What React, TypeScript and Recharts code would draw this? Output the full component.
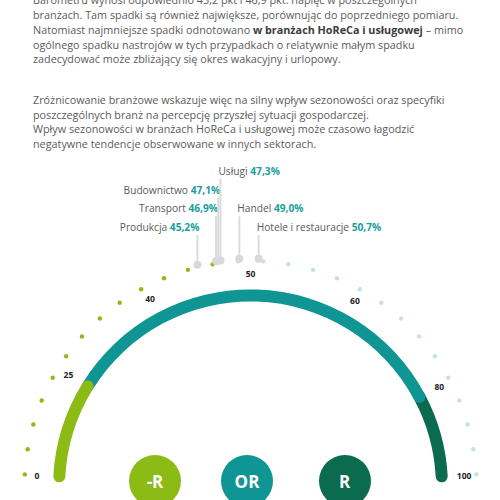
import React from "react";
import { PieChart, Pie } from "recharts";

const PARAGRAPH_1 = [
  "Barometru wynosi odpowiednio 45,2 pkt i 46,9 pkt. napięć w poszczególnych",
  "branżach. Tam spadki są również największe, porównując do poprzedniego pomiaru.",
  "Natomiast najmniejsze spadki odnotowano |w branżach HoReCa i usługowej| – mimo",
  "ogólnego spadku nastrojów w tych przypadkach o relatywnie małym spadku",
  "zadecydować może zbliżający się okres wakacyjny i urlopowy.",
];
const PARAGRAPH_2 = [
  "Zróżnicowanie branżowe wskazuje więc na silny wpływ sezonowości oraz specyfiki",
  "poszczególnych branż na percepcję przyszłej sytuacji gospodarczej.",
  "Wpływ sezonowości w branżach HoReCa i usługowej może czasowo łagodzić",
  "negatywne tendencje obserwowane w innych sektorach.",
];

const ZONE_NAMES = ["-R", "OR", "R"];
const ZONE_BOUNDS = [0, 25, 80, 100];
const ZONE_COLORS = ["#8cbb16", "#0f9594", "#0b6b4e"];

const TICKS = [0, 25, 40, 50, 60, 80, 100];

const BRANCHES = ["Produkcja", "Transport", "Budownictwo", "Usługi", "Handel", "Hotele i restauracje"];
const BRANCH_VALUES = [45.2, 46.9, 47.1, 47.3, 49.0, 50.7];

// layout
const TICK_ANGLES = [3.2, 31.7, 62, 90, 119.2, 151.9, 176.8]; // degrees from the left end
const LABEL_LEVEL = [0, 1, 2, 3, 1, 0];
const LABEL_SIDE = ["end", "end", "end", "start", "start", "start"];
const LEVEL_Y = [227, 208.3, 189.5, 170.7];
const DOT_COUNT = 28;
const GREEN_DOTS = 13;
const CX = 250.5;
const CY = 487;
const CAP = 1.8;
const RAD = Math.PI / 180;
const FONT = '"Open Sans", sans-serif';

function angleOf(v: number) {
  for (let i = 1; i < TICKS.length; i++) {
    if (v <= TICKS[i]) {
      const t = (v - TICKS[i - 1]) / (TICKS[i] - TICKS[i - 1]);
      return 180 - (TICK_ANGLES[i - 1] + t * (TICK_ANGLES[i] - TICK_ANGLES[i - 1]));
    }
  }
  return 180 - TICK_ANGLES[TICK_ANGLES.length - 1];
}

const polar = (cx: number, cy: number, r: number, deg: number) => [
  cx + r * Math.cos(-deg * RAD),
  cy + r * Math.sin(-deg * RAD),
];

const fmt = (v: number) => v.toFixed(1).replace(".", ",") + "%";

const renderDot = (p: any) => {
  const [x, y] = polar(p.cx, p.cy, 226, p.midAngle);
  return <circle cx={x} cy={y} r={2.2} fill={p.index < GREEN_DOTS ? "#8cbb16" : "#c4e2e3"} />;
};

const renderTick = (p: any) => {
  const [x, y] = polar(p.cx, p.cy, 214, p.midAngle);
  const t = p.payload?.tick ?? p.tick;
  return (
    <text x={x} y={y} textAnchor="middle" dominantBaseline="central" fontSize={8.5} fontWeight={700} fill="#222" fontFamily={FONT}>
      {t}
    </text>
  );
};

const renderMarker = (p: any) => {
  const i = p.payload?.idx ?? p.idx;
  const [x, y] = polar(p.cx, p.cy, 228.5, p.midAngle);
  const ly = LEVEL_Y[LABEL_LEVEL[i]];
  const side = LABEL_SIDE[i];
  return (
    <g>
      <line x1={x} x2={x} y1={y} y2={ly + 8} stroke="#dcdcdc" strokeWidth={2} />
      <circle cx={x} cy={y} r={4} fill="#d8d8d8" />
      <text
        x={side === "end" ? x + 2 : x - 2}
        y={ly}
        textAnchor={side}
        dominantBaseline="central"
        fontSize={10.2}
        fontFamily={FONT}
      >
        <tspan fill="#5a5a5a">{BRANCHES[i] + "\u00a0"}</tspan>
        <tspan fill="#17a09a" fontWeight={700}>{fmt(BRANCH_VALUES[i])}</tspan>
      </text>
    </g>
  );
};

function TextLine({ line }: { line: string }) {
  const parts = line.split("|");
  return (
    <div style={{ whiteSpace: "nowrap" }}>
      {parts.map((s, i) =>
        i % 2 === 1 ? (
          <b key={i} style={{ color: "#3c3c3c", fontWeight: 700 }}>{s}</b>
        ) : (
          <span key={i}>{s}</span>
        )
      )}
    </div>
  );
}

export default function App() {
  const step = (TICK_ANGLES[TICK_ANGLES.length - 1] - TICK_ANGLES[0]) / (DOT_COUNT - 1);
  const dots = Array.from({ length: DOT_COUNT }, (_, i) => ({ name: "d" + i, value: 1 }));
  const textStyle: React.CSSProperties = {
    position: "absolute",
    left: 33,
    fontFamily: FONT,
    fontSize: 10.8,
    lineHeight: "14.8px",
    color: "#5b5b5b",
  };

  return (
    <div style={{ position: "absolute", left: 0, top: 0, width: 500, height: 500, overflow: "hidden", background: "#fff" }}>
      <div style={{ ...textStyle, top: -6.8 }}>
        {PARAGRAPH_1.map((l, i) => <TextLine key={i} line={l} />)}
      </div>
      <div style={{ ...textStyle, top: 92.9 }}>
        {PARAGRAPH_2.map((l, i) => <TextLine key={i} line={l} />)}
      </div>

      <div style={{ position: "absolute", left: 0, top: 0 }}>
        <PieChart width={500} height={500} margin={{ top: 0, right: 0, bottom: 0, left: 0 }}>
          {ZONE_NAMES.map((n, i) => (
            <Pie
              key={n}
              data={[{ name: n, value: ZONE_BOUNDS[i + 1] - ZONE_BOUNDS[i] }]}
              dataKey="value"
              cx={CX}
              cy={CY}
              innerRadius={185.5}
              outerRadius={197.5}
              startAngle={angleOf(ZONE_BOUNDS[i]) + CAP}
              endAngle={angleOf(ZONE_BOUNDS[i + 1]) - CAP}
              cornerRadius={6}
              fill={ZONE_COLORS[i]}
              stroke="none"
              isAnimationActive={false}
            />
          )).reverse()}

          <Pie
            data={dots}
            dataKey="value"
            cx={CX}
            cy={CY}
            innerRadius={220}
            outerRadius={230}
            startAngle={180 - TICK_ANGLES[0] + step / 2}
            endAngle={180 - TICK_ANGLES[TICK_ANGLES.length - 1] - step / 2}
            fill="none"
            stroke="none"
            label={renderDot}
            labelLine={false}
            isAnimationActive={false}
          />

          {TICKS.map((t) => (
            <Pie
              key={"t" + t}
              data={[{ name: String(t), tick: t, value: 1 }]}
              dataKey="value"
              cx={CX}
              cy={CY}
              innerRadius={205}
              outerRadius={206}
              startAngle={angleOf(t) + 0.05}
              endAngle={angleOf(t) - 0.05}
              fill="none"
              stroke="none"
              label={renderTick}
              labelLine={false}
              isAnimationActive={false}
            />
          ))}

          {BRANCHES.map((b, i) => (
            <Pie
              key={b}
              data={[{ name: b, idx: i, value: BRANCH_VALUES[i] }]}
              dataKey="value"
              cx={CX}
              cy={CY}
              innerRadius={225}
              outerRadius={226}
              startAngle={angleOf(BRANCH_VALUES[i]) + 0.05}
              endAngle={angleOf(BRANCH_VALUES[i]) - 0.05}
              fill="none"
              stroke="none"
              label={renderMarker}
              labelLine={false}
              isAnimationActive={false}
            />
          ))}
        </PieChart>
      </div>

      {ZONE_NAMES.map((n, i) => (
        <div
          key={n}
          style={{
            position: "absolute",
            left: [129, 221, 318.5][i],
            top: 455,
            width: 52,
            height: 52,
            borderRadius: "50%",
            background: ZONE_COLORS[i],
            color: "#fff",
            fontFamily: FONT,
            fontWeight: 700,
            fontSize: 17,
            display: "flex",
            alignItems: "center",
            justifyContent: "center",
          }}
        >
          {n}
        </div>
      ))}
    </div>
  );
}
